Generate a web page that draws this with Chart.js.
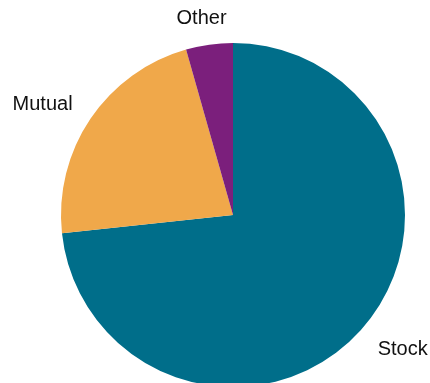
<!DOCTYPE html>
<html>
<head>
<meta charset="utf-8">
<script src="https://cdn.jsdelivr.net/npm/chart.js@4/dist/chart.umd.min.js"></script>
<style>
  html, body { margin: 0; padding: 0; background: #fff; overflow: hidden; }
  #wrap { width: 430px; height: 383px; overflow: hidden; }
</style>
</head>
<body>
<div id="wrap"><canvas id="myChart" width="430" height="387"></canvas></div>
<script>
const LABELS = ['Stock', 'Mutual', 'Other'];
const VALUES = [73.3, 22.3, 4.4];
const COLORS = ['#006e8a', '#f0a84a', '#7b1f7c'];

// labels sit outside the slices, a bit further out sideways than vertically
const outsideLabels = {
    id: 'outsideLabels',
    afterDraw(chart) {
        const ctx = chart.ctx;
        const meta = chart.getDatasetMeta(0);
        ctx.save();
        ctx.font = '20px "Liberation Sans", Arial, sans-serif';
        ctx.fillStyle = '#111';
        ctx.textAlign = 'center';
        ctx.textBaseline = 'middle';
        meta.data.forEach((arc, i) => {
            const { x, y, startAngle, endAngle, outerRadius } = arc.getProps(['x', 'y', 'startAngle', 'endAngle', 'outerRadius'], true);
            const mid = (startAngle + endAngle) / 2;
            const dx = Math.cos(mid), dy = Math.sin(mid);
            const w = ctx.measureText(LABELS[i]).width;
            const tx = x + dx * (outerRadius * 1.28 + w * 0.16);
            const ty = y + dy * outerRadius * 1.16;
            ctx.fillText(LABELS[i], tx, ty + 1);
        });
        ctx.restore();
    }
};

new Chart(document.getElementById('myChart'), {
    type: 'pie',
    data: {
        labels: LABELS,
        datasets: [{
            data: VALUES,
            backgroundColor: COLORS,
            borderWidth: 0,
        }]
    },
    options: {
        responsive: false,
        animation: false,
        layout: { padding: { left: 61, right: 25, top: 43, bottom: 0 } },
        plugins: {
            legend: { display: false },
            tooltip: { enabled: false }
        }
    },
    plugins: [outsideLabels]
});
</script>
</body>
</html>
